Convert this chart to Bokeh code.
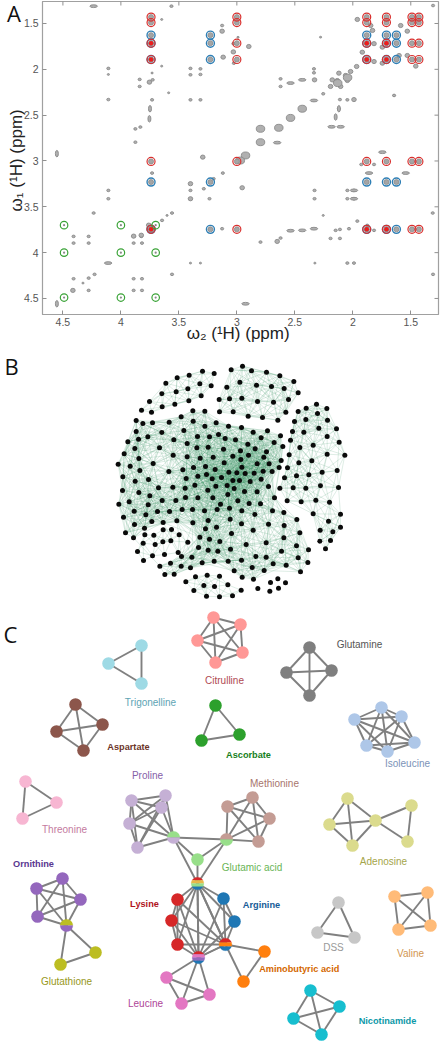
import numpy as np
from bokeh.plotting import figure
from bokeh.layouts import column
from bokeh.models import Range1d, FixedTicker, Label, Div
from bokeh.core.properties import value
from bokeh.embed import file_html
from bokeh.resources import INLINE

# ---------- Panel A: peaks (omega2, omega1 in ppm), grouped by blob size ----------
tiny_w2 = [3.648,2.99,3.648,2.278,1.644,4.327,2.327,3.4,3.314,2.255,3.602,4.108,3.731,3.588]
tiny_w1 = [1.456,1.65,1.965,1.649,2.285,4.332,4.114,4.114,4.114,3.594,3.594,2.056,2.04,2.256]
small_w2 = [3.564,1.308,3.127,3.03,3.026,3.40,3.40,3.314,3.314,4.108,3.838,3.838,3.726,4.108,3.731,3.40,3.314,3.875,3.832,3.875,
            2.335,2.335,2.623,2.623,2.255,2.111,2.047,2.12,1.644,1.927,1.817,3.731,3.121,3.2,3.40,3.40,3.236,3.285,4.108,4.108,
            4.235,2.33,2.33,2.047,1.99,2.047,1.99,3.559,3.645,1.311,3.127,2.148,2.111,2.033,1.961,1.875,1.817,2.623,2.796,2.192,2.111,
            3.89,3.824,3.89,3.818,4.408,4.278,4.408,4.278,3.559,1.308,4.227,4.278,4.408,3.89,3.818,3.89,3.818,4.278,2.047,1.99]
small_w1 = [1.311,1.304,1.522,1.72,1.933,1.99,2.06,1.995,2.056,1.99,2.11,2.187,2.115,2.33,2.333,2.333,2.333,2.65,2.63,2.795,
            1.995,2.038,2.104,2.187,2.267,2.33,2.333,2.43,2.285,3.038,3.038,3.132,3.132,3.194,3.321,3.412,3.412,3.303,3.321,3.412,
            3.568,3.321,3.412,3.321,3.321,3.412,3.412,3.568,3.648,3.568,3.739,3.757,3.747,3.739,3.656,3.703,3.757,3.841,3.885,3.845,3.845,
            3.823,3.823,3.896,3.896,3.823,3.823,3.896,3.896,4.237,4.237,4.237,4.278,4.285,4.285,4.285,4.412,4.412,4.412,4.114,4.114]
medium_w2 = [3.127,2.897,3.118,3.03,3.754,1.53,1.587,1.846,1.961,1.83,1.817,1.745,1.918,1.817,1.745,1.601,1.53,1.457,1.967,2.019,2.062,
             2.047,2.134,2.12,2.177,2.192,2.105,2.33,3.294,2.954,2.652,3.40,3.40,1.99,4.414,3.89,3.824,3.74,3.76]
medium_w1 = [1.584,1.751,1.867,1.81,2.14,1.584,1.522,1.522,1.456,1.576,1.72,1.758,1.813,1.915,1.933,1.849,1.849,1.965,1.969,2.024,2.067,
             2.122,2.122,2.042,2.115,2.187,2.187,2.115,2.958,3.292,3.878,3.248,3.412,2.33,4.412,3.82,3.81,3.72,3.70]
wide_w2 = [4.235,2.436,2.537,2.335,1.99,4.11,2.925,2.537,2.436,2.335,1.86,1.544,2.183,2.105,1.745,2.652,1.99]
wide_w1 = [1.311,2.115,2.15,2.34,3.321,4.114,4.558,3.761,3.757,3.739,3.132,3.132,2.627,2.627,2.904,2.80,3.412]
tall_w2 = [3.749,3.754,4.552,4.552,2.148,2.12]
tall_w1 = [2.43,2.54,2.92,4.558,2.52,2.43]
large_w2 = [2.436,2.537,2.638,2.796,2.796,2.925,2.97,3.74,2.045,2.13]
large_w1 = [2.43,2.53,2.638,2.649,2.795,2.94,2.995,3.74,2.09,2.15]

# ---------- Panel A: assignment rings ----------
red_rows = {1.43:[3.74,3.0,1.88,1.71,1.49,1.43],1.49:[3.74,3.0,1.88,1.71,1.49,1.43],
            1.715:[3.74,3.0,1.88,1.71,1.49,1.43],1.893:[3.74,3.0,1.88,1.71,1.49,1.43],
            3.005:[3.74,3.0,1.88,1.71,1.49,1.43],3.746:[3.74,3.0,1.88,1.71,1.49,1.43]}
blue_rows = {1.627:[3.74,3.228,1.88,1.71,1.624],1.715:[3.74,3.228,1.88,1.71,1.624],
             1.893:[3.74,3.228,1.88,1.71,1.624],3.23:[3.74,3.228,1.88,1.71,1.624],
             3.746:[3.74,3.228,1.88,1.71,1.624]}
green_rows = {3.70:[4.49,4.0,3.70],4.0:[4.49,4.0,3.70],4.49:[4.49,4.0,3.70]}
dot_w2 = [3.74,1.88,1.71]*3
dot_w1 = [1.715]*3+[1.893]*3+[3.746]*3

tick_values = [1.5,2,2.5,3,3.5,4,4.5]
tick_labels = {1.5:"1.5",2:"2",2.5:"2.5",3:"3",3.5:"3.5",4:"4",4.5:"4.5"}

# ---------- Panel B: node layout, by community ----------
top_left = [(286,128),(320,112),(356,104),(396,92),(431,99),(388,130),(422,136),(352,145),(317,154),(274,160),(392,166),(355,181),(313,191),(275,199),(237,183),(213,209),(243,215)]
top = [(482,88),(516,77),(543,91),(588,95),(628,106),(670,123),(508,125),(558,134),(603,138),(641,144),(683,157),(469,140),(654,177),(609,185),(561,183),(514,173),(477,175),(446,177),
       (447,214),(488,214),(533,227),(576,231),(622,239),(646,215)]
central = [(367,211),(403,212),(197,240),(246,247),(217,249),(296,245),(332,229),(368,242),(437,247),(474,257),(513,261),(548,275),(591,271),(197,273),(232,289),(204,296),(172,304),(274,276),(340,270),(403,257),
 (310,298),(381,288),(417,289),(444,282),(464,294),(495,298),(532,311),(572,292),(630,286),(611,306),(350,309),(267,322),(379,322),(413,320),(193,324),(161,340),(205,354),(143,371),(179,377),(208,390),(248,369),(308,344),(350,349),(389,353),(428,350),(459,326),(510,331),(554,325),(588,334),(637,318),(487,347),(534,344),(580,350),(632,360),(511,357),(560,370),(596,370),(626,381),(461,367),(514,380),(405,378),(369,381),(337,388),(295,393),(499,397),(475,395),(524,399),(551,398),(578,392),(434,387),(382,407),(347,414),(425,415),(408,402),(453,411),(487,420),(507,420),(539,423),(572,416),(605,393),(234,417),(157,409),(194,422),(156,450),(205,456),(264,442),(307,440),(344,443),(373,434),(412,449),(436,437),(470,435),(491,444),(522,453),(560,454),(594,438),(145,491),(176,484),(238,466),(275,480),(316,480),(345,471),(382,472),(427,472),(450,491),(477,503),(502,481),(536,489),(570,490),(472,462),(233,493),(191,512),(159,530),(192,552),(226,523),(261,513),(297,513),(335,507),(366,507),(402,511),(440,507),(514,511),(553,522),(606,511),(244,543),(278,546),(319,541),(367,547),(413,540),(438,560),(479,536),(513,550),(594,551),(548,569),(405,565),(165,577),(189,592),(222,563),
 (388,590),(417,596),(384,621),(413,629),(442,632),(448,603),(483,579),(480,626),(527,612),(587,607),(633,632),(640,592),(641,555),(679,537),(688,577),(678,616),(714,628),(683,652),(712,666),(647,674),(690,694),(608,670),(587,650),(556,648),(513,659),(473,662),(431,662),(395,667),(364,650),(333,648),(300,668),(268,677),(360,682),(332,677),(311,701),(283,702),(491,691),(545,681),(581,690),(515,710),(549,716),(640,516),(612,472)]
lower_left = [(223,583),(250,584),(278,568),(303,567),(326,583),(277,604),(301,601),(254,612),(218,608),(201,633),(246,646),(219,660),(282,642),(323,636),(352,605)]
right = [(683,213),(707,203),(738,191),(769,204),(741,219),(771,239),(706,237),(672,243),(798,265),(745,263),(700,275),(666,273),(770,288),(806,305),(660,299),(688,321),(728,314),(656,343),(770,341),(823,344),(685,367),(724,361),(651,382),(755,395),(800,390),(678,406),(715,403),(642,412),(628,443),(668,442),(706,443),(750,436),(804,441),(650,481),(692,484),(736,479),(777,485),(728,520),(810,521),(774,542),(749,569),(787,574),(810,560),(748,602),(780,600),(765,625)]
ellipse_group = [(346,724),(375,709),(410,704),(447,707),(400,735),(432,738),(472,733),(370,750),(512,749),(408,767),(447,769),(486,766)]
small_group = [(600,726),(622,715),(645,727),(624,743),(598,752),(562,744)]

# ---------- Panel C: metabolite networks ----------
net_trigonelline = [(141,645),(108,663),(141,683)]
net_citrulline = [(213,617),(240,624),(242,652),(215,662),(197,640)]
net_glutamine = [(309,647),(286,672),(331,670),(309,695)]
net_aspartate = [(75,704),(102,724),(56,731),(83,750)]
net_ascorbate = [(215,705),(239,734),(201,740)]
net_isoleucine = [(381,707),(401,716),(354,719),(414,742),(366,745),(387,751)]
net_threonine = [(25,781),(56,802),(22,818)]
net_proline = [(131,800),(165,795),(161,807),(129,823),(137,847)]
net_methionine = [(252,797),(227,806),(269,818),(258,841)]
net_ornithine = [(62,878),(36,888),(80,899),(37,916)]
net_glutathione = [(95,952),(60,964)]
net_lysine = [(177,899),(171,920),(177,944)]
net_arginine = [(223,898),(234,921)]
net_aminobutyric = [(264,951),(243,981)]
net_leucine = [(166,977),(209,994),(181,1003)]
net_dss = [(338,902),(317,932),(354,937)]
net_valine = [(394,896),(427,892),(398,929),(430,925)]
net_nicotinamide = [(310,990),(339,1006),(293,1018),(321,1034)]
net_adenosine = [(347,798),(329,824),(375,820),(352,845),(411,805),(407,841)]
net_glutamic = [(197,859)]
hub_proline = (173,837); hub_methionine = (226,839); hub_ornithine = (66,925)
hub_top = (197,883); hub_bottom = (198,957); hub_right = (225,944)

labels = [("Glutamine",359,644,"#555555"),("Citrulline",224,680,"#b04a52"),("Trigonelline",150,702,"#5ea4b4"),
          ("Isoleucine",407,763,"#7b93b8"),("Proline",147,775,"#8560a8"),("Threonine",64,829,"#c47a9e"),
          ("Glutathione",66,981,"#97981a"),("Leucine",145,1003,"#ae4498"),
          ("Methionine",274,783,"#a8756c"),("Glutamic  acid",253,867,"#6ab556"),("Adenosine",383,861,"#a5a54a"),
          ("DSS",333,947,"#999999"),("Valine",410,953,"#d29650")]
strong_labels = [("Aspartate",128,746,"#6b3428"),("Ascorbate",248,754,"#16801c"),("Ornithine",33,863,"#5a3790"),
                 ("Lysine",144,903,"#b0141c"),("Arginine",261,904,"#175c98"),
                 ("Aminobutyric  acid",300,968,"#d46800"),("Nicotinamide",387,1020,"#0d98a8")]

FONT = "Liberation Sans"
W = 443

# ---------------- Panel A ----------------
pa = figure(width=W, height=345, x_range=Range1d(4.676,1.261), y_range=Range1d(4.675,1.26),
            toolbar_location=None, output_backend="svg", min_border_left=42, min_border_right=5,
            min_border_top=1, min_border_bottom=31, outline_line_color="#a0a0a0", outline_line_width=1.2,
            frame_align=False)
pa.grid.visible = False
for ax in (pa.xaxis[0], pa.yaxis[0]):
    ax.ticker = FixedTicker(ticks=tick_values)
    ax.major_label_overrides = tick_labels
    ax.major_tick_in = 4; ax.major_tick_out = 0; ax.minor_tick_line_color = None
    ax.major_tick_line_color = "#909090"; ax.axis_line_color = "#a0a0a0"
    ax.major_label_text_color = "#555555"; ax.major_label_text_font = FONT
    ax.major_label_text_font_size = "10.5px"
    ax.axis_label_text_font = FONT; ax.axis_label_text_font_size = "17px"
    ax.axis_label_text_font_style = "normal"; ax.axis_label_text_color = "#222222"
pa.xaxis[0].axis_label = "ω₂ (¹H)  (ppm)"
pa.yaxis[0].axis_label = "ω₁ (¹H)  (ppm)"
pa.xaxis[0].axis_label_standoff = -5; pa.yaxis[0].axis_label_standoff = -5
pa.xaxis[0].major_label_standoff = 3; pa.yaxis[0].major_label_standoff = 4
# inward ticks on the top and right edges (clipped by the frame)
pa.scatter(x=tick_values,y=[1.26]*7,marker="dash",size=8,angle=np.pi/2,line_color="#909090",line_width=1)
pa.scatter(x=[1.261]*7,y=tick_values,marker="dash",size=8,line_color="#909090",line_width=1)

pkw = dict(fill_color="#b0b0b0", line_color="#8a8a8a", line_width=0.9, width_units="screen", height_units="screen")
for xs,ys,w,h in [(tiny_w2,tiny_w1,2.2,1.8),(small_w2,small_w1,3.2,2.6),(medium_w2,medium_w1,4.6,4.2),
                  (wide_w2,wide_w1,7.5,2.8),(tall_w2,tall_w1,3,6.5),(large_w2,large_w1,8.5,7)]:
    pa.ellipse(x=xs,y=ys,width=w,height=h,**pkw)
def rows_xy(rows):
    xs,ys=[],[]
    for r,cols in rows.items():
        for c in cols:
            xs.append(c); ys.append(r)
    return xs,ys
rx,ry = rows_xy(red_rows); bx,by = rows_xy(blue_rows); gx,gy = rows_xy(green_rows)
pa.scatter(rx+bx,ry+by,size=5,fill_color="#a5a5a5",line_color="#8a8a8a",line_width=0.8)
pa.scatter(gx,gy,size=2.2,fill_color="#8a8a8a",line_color=None)
pa.scatter(bx,by,size=8,fill_color=None,line_color="#2f7fb5",line_width=1.4)
pa.scatter(rx,ry,size=8,fill_color=None,line_color="#d9302e",line_width=1.2)
pa.scatter(gx,gy,size=7.5,fill_color=None,line_color="#3aa337",line_width=1.2)
pa.scatter(dot_w2,dot_w1,size=4.5,fill_color="#ee1c1c",line_color=None)

# Panel letter that sits outside panel A's frame
letter_a = Div(text="A", width=24, height=30, margin=(-345,0,315,7),
               styles={"font-family":"Open Sans","font-size":"22px","line-height":"26px","color":"#111111"})

# ---------------- Panel B (layout units: 3 per screen pixel) ----------------
pb = figure(width=W, height=265, x_range=Range1d(-210,1119), y_range=Range1d(810,15),
            x_axis_type=None, y_axis_type=None, frame_align=False,
            toolbar_location=None, output_backend="svg", min_border=0, outline_line_color=None)
pb.grid.visible = False
def near_edges(nodes, radius):
    a = np.array(nodes,float)
    xs,ys=[],[]
    for i in range(len(a)):
        for j in range(i+1,len(a)):
            if np.hypot(*(a[i]-a[j])) <= radius:
                xs.append([a[i,0],a[j,0]]); ys.append([a[i,1],a[j,1]])
    return xs,ys
for nodes,rad in [(top_left,85),(top,120),(central,120),(lower_left,55),(right,100),(ellipse_group,70),(small_group,0)]:
    xs,ys = near_edges(nodes,rad)
    if xs:
        pb.multi_line(xs,ys,line_color="#2f8f5f",line_alpha=0.18,line_width=0.9)
allnodes = top_left+top+central+lower_left+right+ellipse_group+small_group
pb.scatter([n[0] for n in allnodes],[n[1] for n in allnodes],size=5,fill_color="#0a0a0a",line_color=None)
pb.add_layout(Label(x=4,y=245,x_units="screen",y_units="screen",text="B",text_font="Open Sans",
                    text_font_size="22px",text_color="#111111",text_baseline="alphabetic"))

# ---------------- Panel C (layout units: screen pixels) ----------------
pc = figure(width=W, height=440, x_range=Range1d(0,443), y_range=Range1d(1050,610),
            x_axis_type=None, y_axis_type=None, frame_align=False,
            toolbar_location=None, output_backend="svg", min_border=0, outline_line_color=None)
pc.grid.visible = False
ex,ey = [],[]
def clique(nodes):
    for i in range(len(nodes)):
        for j in range(i+1,len(nodes)):
            ex.append([nodes[i][0],nodes[j][0]]); ey.append([nodes[i][1],nodes[j][1]])
for g in [net_trigonelline,net_citrulline,net_glutamine,net_aspartate,net_ascorbate,net_threonine,
          net_proline+[hub_proline],net_methionine+[hub_methionine],net_ornithine+[hub_ornithine],
          net_glutathione+[hub_ornithine],net_lysine+[hub_top,hub_bottom,hub_right],
          net_arginine+[hub_top,hub_bottom,hub_right],net_aminobutyric+[hub_right],net_leucine+[hub_bottom],
          net_dss,net_valine,net_nicotinamide,net_glutamic+[hub_proline,hub_methionine,hub_top],
          net_adenosine[:4],[net_adenosine[2],net_adenosine[4],net_adenosine[5]],net_isoleucine]:
    clique(g)
pc.multi_line(ex,ey,line_color="#808080",line_width=1.9)
R = 6.3
node_groups = [(net_trigonelline,"#9edae5"),(net_citrulline,"#ff9896"),(net_glutamine,"#7f7f7f"),(net_aspartate,"#8c564b"),
               (net_ascorbate,"#2ca02c"),(net_isoleucine,"#aec7e8"),(net_threonine,"#f7b6d2"),(net_proline,"#c5b0d5"),
               (net_methionine,"#c49c94"),(net_ornithine,"#9467bd"),(net_glutathione,"#bcbd22"),(net_lysine,"#d62728"),
               (net_arginine,"#1f77b4"),(net_aminobutyric,"#ff7f0e"),(net_leucine,"#e377c2"),(net_dss,"#c7c7c7"),
               (net_valine,"#ffbb78"),(net_nicotinamide,"#17becf"),(net_adenosine,"#dbdb8d"),(net_glutamic,"#98df8a")]
for nodes,col in node_groups:
    pc.circle([n[0] for n in nodes],[n[1] for n in nodes],radius=R,fill_color=col,line_color=None)
def band_patches(center,colors):
    n=len(colors); cx,cy=center
    for k,col in enumerate(colors):
        t0=-1+2*k/n; t1=-1+2*(k+1)/n
        ys=np.linspace(t0,t1,14)
        left=-np.sqrt(1-ys**2); right_=np.sqrt(1-ys**2)
        px=cx+R*np.concatenate([left,right_[::-1]]); py=cy+R*np.concatenate([ys,ys[::-1]])
        pc.patch(px,py,fill_color=col,line_color=col,line_width=0.2)
band_patches(hub_proline,["#98df8a","#c5b0d5"])
band_patches(hub_methionine,["#c49c94","#98df8a"])
band_patches(hub_ornithine,["#bcbd22","#9467bd"])
band_patches(hub_top,["#d62728","#e8b84a","#98df8a","#1f77b4"])
band_patches(hub_bottom,["#d62728","#e377c2","#9467bd","#1f77b4"])
band_patches(hub_right,["#d62728","#ff7f0e","#1f77b4"])
pc.text([l[1] for l in labels],[l[2] for l in labels],text=[l[0] for l in labels],
        text_color=[l[3] for l in labels],text_font=value(FONT),text_font_size=value("10px"),
        text_align="center",text_baseline="middle")
pc.text([l[1] for l in strong_labels],[l[2] for l in strong_labels],text=[l[0] for l in strong_labels],
        text_color=[l[3] for l in strong_labels],text_font=value(FONT),text_font_size=value("9.2px"),
        text_font_style="bold",text_align="center",text_baseline="middle")
pc.add_layout(Label(x=3,y=417,x_units="screen",y_units="screen",text="C",text_font="Open Sans",
                    text_font_size="22px",text_color="#111111",text_baseline="alphabetic"))

page = column(pa,letter_a,pb,pc,spacing=0)
open("out.html","w").write(file_html(page,INLINE))
